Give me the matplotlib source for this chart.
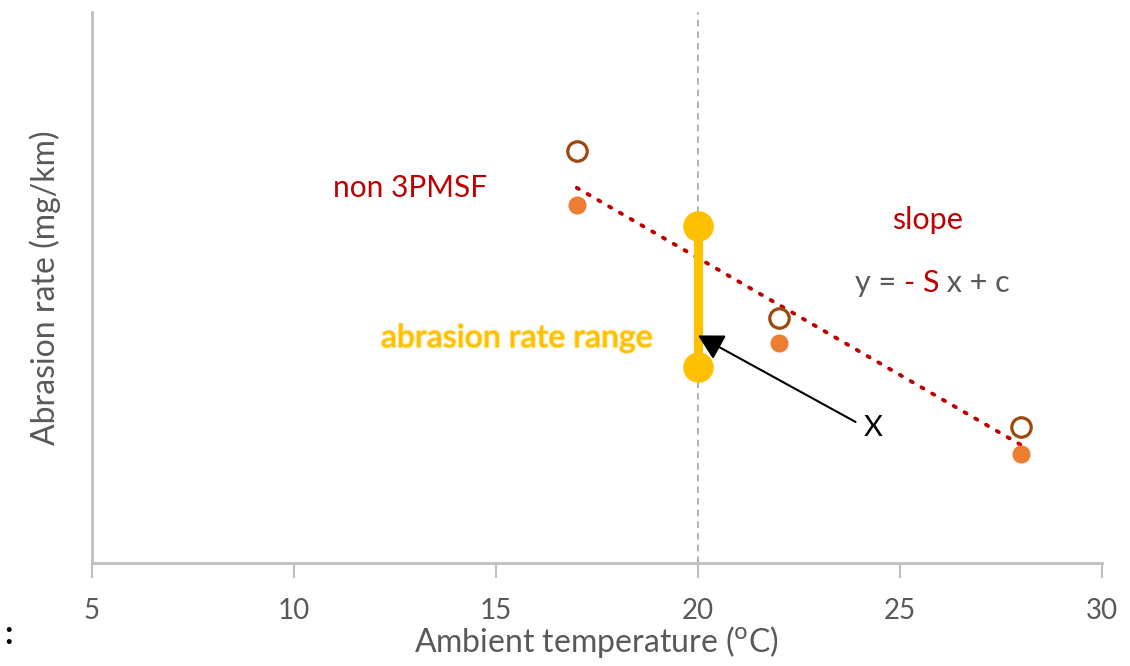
import matplotlib
matplotlib.use("Agg")
import matplotlib.pyplot as plt
import matplotlib.patheffects as pe
from matplotlib.transforms import offset_copy

plt.rcParams['font.family'] = ['Lato', 'DejaVu Sans']

# Data (y in arbitrary units, no y ticks shown)
temps = [17, 22, 28]
open_vals = [74.8, 44.5, 24.7]      # open brown circles
filled_vals = [65.0, 39.9, 19.8]    # filled orange circles
trend_x = [17, 28]
trend_y = [68.1, 21.4]
range_x = 20
range_lo, range_hi = 35.6, 61.2
xticks = [5, 10, 15, 20, 25, 30]

fig = plt.figure(figsize=(11.3, 6.66), dpi=100)
ax = fig.add_axes([92/1130, 1 - 563/666, (1102-92)/1130, (563-12)/666])
ax.set_xlim(5, 30)
ax.set_ylim(0, 100)

grey = '#BFBFBF'
ax.axvline(range_x, color='#A6A6A6', lw=1.2, ls=(0, (4, 3)), zorder=1)

ax.plot(trend_x, trend_y, color='#C00000', lw=2.8, ls=(0, (0.6, 2.6)),
        dash_capstyle='round', zorder=2)

ax.plot([range_x, range_x], [range_lo, range_hi], color='#FFC000', lw=6.5,
        marker='o', ms=21, solid_capstyle='butt', zorder=3)

ax.plot(temps, open_vals, ls='none', marker='o', ms=14, mfc='white',
        mec='#9E480E', mew=2.3, zorder=4)
ax.plot(temps, filled_vals, ls='none', marker='o', ms=12, mfc='#ED7D31',
        mec='#ED7D31', zorder=4)

ax.annotate('', xy=(20.0, 41.3), xytext=(23.9, 25.6),
            arrowprops=dict(arrowstyle='-|>,head_length=0.55,head_width=0.3',
                            color='black', lw=1.5,
                            mutation_scale=28, shrinkA=0, shrinkB=0), zorder=5)

ax.text(12.87, 68.1, 'non 3PMSF', color='#C00000', fontsize=21.5,
        ha='center', va='center')
ax.text(25.67, 62.3, 'slope', color='#C00000', fontsize=22,
        ha='center', va='center')

# equation drawn as consecutive pieces
fig.canvas.draw()
renderer = fig.canvas.get_renderer()
pieces = [('y = ', '#595959'), ('- S', '#C00000'), (' x + c', '#595959')]
x0 = (855 - 92) / 40.4 + 5
trans = ax.transData
for s, c in pieces:
    t = ax.text(x0, 50.8, s, color=c, fontsize=22, ha='left', va='center',
                transform=trans)
    w = t.get_window_extent(renderer=renderer).width
    trans = offset_copy(trans, fig=fig, x=w * 72 / fig.dpi, y=0, units='points')

ax.text(15.52, 40.8, 'abrasion rate range', color='#FFC000', fontsize=23,
        fontweight='semibold', ha='center', va='center',
        path_effects=[pe.withStroke(linewidth=1.5, foreground='#FFE699')])
ax.text(24.33, 24.5, 'X', color='black', fontsize=21, ha='center', va='center')

for s in ['top', 'right']:
    ax.spines[s].set_visible(False)
for s in ['left', 'bottom']:
    ax.spines[s].set_color(grey)
    ax.spines[s].set_linewidth(2)
ax.set_yticks([])
ax.set_xticks(xticks)
ax.tick_params(axis='x', direction='out', length=11, width=1.5, color=grey,
               labelsize=20, labelcolor='#595959', pad=14)
ax.set_xlabel('Ambient temperature ($^{\\mathrm{o}}$C)', fontsize=23,
              color='#595959', labelpad=0)
ax.set_ylabel('Abrasion rate (mg/km)', fontsize=23, color='#595959', labelpad=22)

fig.text(4/1130, 1 - 635/666, ':', fontsize=24, fontweight='bold',
         color='black', ha='left', va='center')

fig.savefig('out.png', dpi=100)
